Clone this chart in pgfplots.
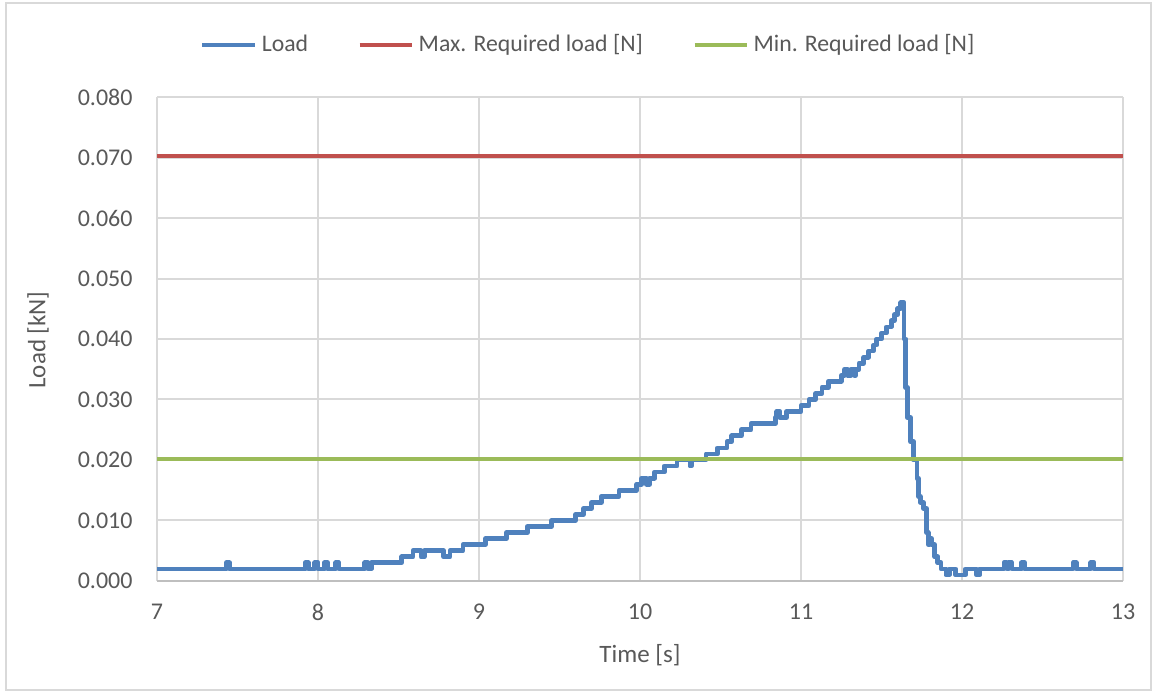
\documentclass[border=0pt]{standalone}
\usepackage{pgfplots}
\pgfplotsset{compat=1.18}
\usepackage{fontspec}
\setmainfont{Carlito}

\definecolor{loadblue}{HTML}{4F81BD}
\definecolor{maxred}{HTML}{C0504D}
\definecolor{mingreen}{HTML}{9BBB59}
\definecolor{gridgray}{HTML}{D9D9D9}
\definecolor{axgray}{HTML}{BFBFBF}
\definecolor{txt}{HTML}{595959}

\begin{document}
\begin{tikzpicture}[font=\fontsize{10}{12}\selectfont, text=txt]
  \path[use as bounding box] (0,0) rectangle (462pt,277.2pt);
  \draw[gridgray, line width=0.6pt] (2.4pt,1.2pt) rectangle (460.4pt,276pt);

  \begin{axis}[
    at={(62.8pt,44.8pt)}, anchor=south west,
    scale only axis, width=386.4pt, height=193.6pt,
    xmin=7, xmax=13, ymin=0, ymax=0.08,
    xtick={7,8,9,10,11,12,13},
    ytick={0,0.01,0.02,0.03,0.04,0.05,0.06,0.07,0.08},
    grid=major,
    major grid style={gridgray, line width=0.8pt},
    axis x line*=bottom, axis y line*=left,
    y axis line style={draw=none},
    x axis line style={draw=axgray, line width=0.8pt, -},
    major tick length=0pt,
    scaled y ticks=false,
    /pgf/number format/assume math mode=true,
    tick label style={font=\fontsize{9.6}{11}\selectfont, text=txt},
    yticklabel style={/pgf/number format/fixed, /pgf/number format/fixed zerofill,
      /pgf/number format/precision=3},
    yticklabel style={inner sep=0pt, anchor=east, xshift=-9.6pt},
    xticklabel style={inner sep=0pt, anchor=center, yshift=-12.4pt},
    legend columns=3,
    legend style={
      at={(0.4477,1.1074)}, anchor=center, draw=none, fill=none,
      font=\fontsize{9.5}{12}\selectfont, text=txt,
      /tikz/every even column/.append style={column sep=18pt},
      nodes={inner xsep=1.8pt},
      cells={anchor=west}, inner sep=0pt,
    },
    legend image code/.code={\draw[#1] (0pt,0pt) -- (21pt,0pt);},
  ]

\addplot[const plot, color=loadblue, line width=1.9pt, line join=round] coordinates {
  (7.00,0.002)
  (7.43,0.003) (7.45,0.002)
  (7.92,0.003) (7.94,0.002)
  (7.98,0.003) (8.00,0.002)
  (8.04,0.003) (8.06,0.002)
  (8.11,0.003) (8.13,0.002)
  (8.29,0.003) (8.31,0.002) (8.33,0.003)
  (8.52,0.004)
  (8.59,0.005) (8.64,0.004) (8.66,0.005)
  (8.78,0.004) (8.82,0.005)
  (8.90,0.006)
  (9.04,0.007)
  (9.17,0.008)
  (9.30,0.009)
  (9.45,0.010)
  (9.60,0.011)
  (9.65,0.012)
  (9.70,0.013)
  (9.76,0.014)
  (9.87,0.015)
  (9.98,0.016)
  (10.01,0.017) (10.04,0.016) (10.06,0.017)
  (10.09,0.018)
  (10.15,0.019)
  (10.23,0.020)
  (10.31,0.019) (10.32,0.020)
  (10.41,0.021)
  (10.48,0.022)
  (10.54,0.023)
  (10.57,0.024)
  (10.63,0.025)
  (10.69,0.026)
  (10.84,0.027) (10.85,0.028) (10.87,0.027)
  (10.91,0.028)
  (11.00,0.029)
  (11.05,0.030)
  (11.09,0.031)
  (11.13,0.032)
  (11.17,0.033)
  (11.25,0.034) (11.27,0.035) (11.29,0.034) (11.31,0.035) (11.33,0.034) (11.34,0.035)
  (11.36,0.036)
  (11.39,0.037)
  (11.42,0.038)
  (11.45,0.039)
  (11.47,0.040)
  (11.50,0.041)
  (11.53,0.042)
  (11.56,0.043)
  (11.58,0.044)
  (11.60,0.045)
  (11.62,0.046)
  (11.64,0.040)
  (11.65,0.032)
  (11.66,0.027)
  (11.68,0.023)
  (11.70,0.020)
  (11.72,0.017)
  (11.73,0.014)
  (11.74,0.013)
  (11.76,0.012)
  (11.78,0.008)
  (11.79,0.006) (11.80,0.007) (11.81,0.006)
  (11.83,0.004)
  (11.85,0.003)
  (11.87,0.002)
  (11.90,0.001) (11.92,0.002)
  (11.96,0.001) (12.02,0.002)
  (12.09,0.001) (12.11,0.002)
  (12.26,0.003) (12.28,0.002) (12.29,0.003) (12.31,0.002)
  (12.37,0.003) (12.39,0.002)
  (12.69,0.003) (12.71,0.002)
  (12.80,0.003) (12.82,0.002)
  (13.00,0.002)
};
\addlegendentry{Load}

\addplot[color=maxred, line width=1.6pt] coordinates {(7,0.0702) (13,0.0702)};
\addlegendentry{Max. Required load [N]}

\addplot[color=mingreen, line width=1.6pt] coordinates {(7,0.0202) (13,0.0202)};
\addlegendentry{Min. Required load [N]}

  \end{axis}

  \node[rotate=90] at (15.2pt,141.2pt) {Load [kN]};
  \node at (256pt,15.2pt) {Time [s]};
\end{tikzpicture}
\end{document}
